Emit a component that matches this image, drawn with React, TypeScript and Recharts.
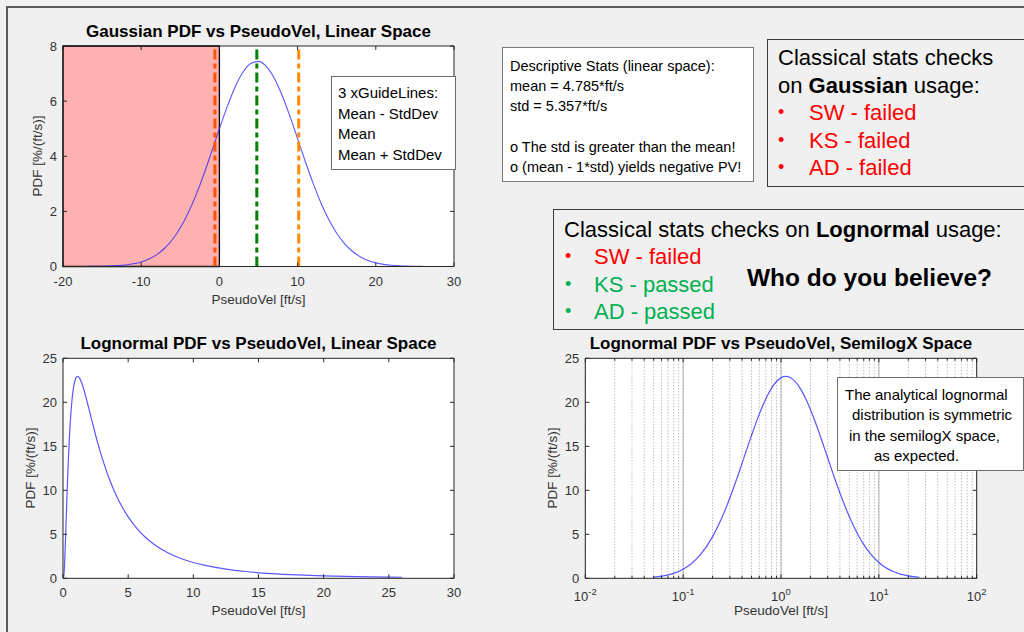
import React from 'react';
import {
  LineChart,
  Line,
  XAxis,
  YAxis,
  CartesianGrid,
  ReferenceArea,
  ReferenceLine
} from 'recharts';

// Gaussian fit, linear space
const gaussVel = [
  -17, -16, -15, -14, -13, -12, -11, -10, -9, -8, -7, -6, -5, -4, -3, -2, -1, 0, 1, 2, 3, 4,
  5, 6, 7, 8, 9, 10, 11, 12, 13, 14, 15, 16, 17, 18, 19, 20, 21, 22, 23, 24, 25, 26
];
const gaussPdf = [
  0.002, 0.004, 0.008, 0.016, 0.03, 0.055, 0.097, 0.165, 0.272, 0.432, 0.662, 0.981, 1.404,
  1.941, 2.59, 3.339, 4.157, 4.998, 5.802, 6.506, 7.045, 7.367, 7.441, 7.258, 6.837, 6.22,
  5.465, 4.637, 3.799, 3.006, 2.298, 1.696, 1.209, 0.832, 0.553, 0.355, 0.22, 0.132, 0.076,
  0.043, 0.023, 0.012, 0.006, 0.003
];
const gaussXTicks = [-20, -10, 0, 10, 20, 30];
const gaussYTicks = [0, 2, 4, 6, 8];
const negativeZone = [-20, 0];
// mean - std, mean, mean + std
const guideValues = [-0.572, 4.785, 10.142];

// Lognormal fit
const lognVel = [
  0.05, 0.06, 0.07, 0.08, 0.1, 0.12, 0.15, 0.2, 0.25, 0.3, 0.4, 0.5, 0.6, 0.7, 0.8, 0.9, 1.0,
  1.12, 1.25, 1.4, 1.6, 1.8, 2.0, 2.25, 2.5, 2.8, 3.2, 3.6, 4.0, 4.5, 5.0, 5.6, 6.3, 7.0, 8.0,
  9.0, 10, 11, 12.5, 14, 16, 18, 20, 22.5, 26
];
const lognPdf = [
  0.135, 0.242, 0.386, 0.567, 1.031, 1.618, 2.678, 4.74, 6.943, 9.122, 13.061, 16.238, 18.654,
  20.4, 21.603, 22.364, 22.786, 22.94, 22.794, 22.342, 21.441, 20.354, 19.187, 17.713, 16.285,
  14.684, 12.771, 11.117, 9.697, 8.207, 6.983, 5.791, 4.7, 3.851, 2.941, 2.283, 1.797, 1.432,
  1.041, 0.773, 0.535, 0.381, 0.277, 0.192, 0.12
];
const lognXTicks = [0, 5, 10, 15, 20, 25, 30];
const lognYTicks = [0, 5, 10, 15, 20, 25];
const logMajor = [0.01, 0.1, 1, 10, 100];
const logMinor = [
  0.02, 0.03, 0.04, 0.05, 0.06, 0.07, 0.08, 0.09,
  0.2, 0.3, 0.4, 0.5, 0.6, 0.7, 0.8, 0.9,
  2, 3, 4, 5, 6, 7, 8, 9,
  20, 30, 40, 50, 60, 70, 80, 90
];

const gaussData = gaussVel.map((v, i) => ({ v, pdf: gaussPdf[i] }));
const lognData = lognVel.map((v, i) => ({ v, pdf: lognPdf[i] }));
const logTicks = [...logMajor, ...logMinor].sort((a, b) => a - b);

const FONT = '"Liberation Sans", Arial, Helvetica, sans-serif';
const AX = '#262626';
const TICK = '#333333';
const CURVE = '#2020ff';
const GUIDE_COLORS = ['#ff5200', '#008000', '#ff8c00'];

type Box = { left: number; top: number; right: number; bottom: number };

const makeXTick = (box: Box, log = false) => (props: any) => {
  const { x, payload } = props;
  const v = payload.value;
  const major = !log || logMajor.includes(v);
  const len = major ? 4 : 2.5;
  let label: React.ReactNode = null;
  if (!log) {
    label = (
      <text x={x} y={box.bottom + 14.5} dy="0.35em" textAnchor="middle" fill={TICK} fontSize={13} fontFamily={FONT}>
        {v}
      </text>
    );
  } else if (major) {
    label = (
      <text x={x} y={box.bottom + 18.5} dy="0.35em" textAnchor="middle" fill={TICK} fontSize={13} fontFamily={FONT}>
        <tspan>10</tspan>
        <tspan dy={-6} fontSize={9.5}>{Math.round(Math.log10(v))}</tspan>
      </text>
    );
  }
  return (
    <g>
      <line x1={x} x2={x} y1={box.bottom} y2={box.bottom - len} stroke={AX} />
      <line x1={x} x2={x} y1={box.top} y2={box.top + len} stroke={AX} />
      {label}
    </g>
  );
};

const makeYTick = (box: Box) => (props: any) => {
  const { y, payload } = props;
  return (
    <g>
      <line x1={box.left} x2={box.left + 4} y1={y} y2={y} stroke={AX} />
      <line x1={box.right - 4} x2={box.right} y1={y} y2={y} stroke={AX} />
      <text x={box.left - 6} y={y} dy="0.35em" textAnchor="end" fill={TICK} fontSize={13} fontFamily={FONT}>
        {payload.value}
      </text>
    </g>
  );
};

interface PanelProps {
  left: number;
  top: number;
  width: number;
  height: number;
  box: Box;
  title: string;
  yLabelGap: number;
  children: React.ReactNode;
}

// one MATLAB-like axes: title, axis labels and the chart underneath
const Panel: React.FC<PanelProps> = ({ left, top, width, height, box, title, yLabelGap, children }) => {
  const cx = (box.left + box.right) / 2;
  const cy = (box.top + box.bottom) / 2;
  return (
    <div style={{ position: 'absolute', left, top, width, height }}>
      {children}
      <div style={{ position: 'absolute', left: cx - 200, width: 400, top: box.top - 24, textAlign: 'center', fontWeight: 'bold', fontSize: 17, lineHeight: '20px', color: '#000' }}>
        {title}
      </div>
      <div style={{ position: 'absolute', left: cx - 100, width: 200, top: box.bottom + 25, textAlign: 'center', fontSize: 13.5, lineHeight: '16px', color: TICK }}>
        PseudoVel [ft/s]
      </div>
      <div style={{ position: 'absolute', left: box.left - yLabelGap - 100, top: cy - 8, width: 200, textAlign: 'center', fontSize: 13.5, lineHeight: '16px', color: TICK, transform: 'rotate(-90deg)' }}>
        PDF [%/(ft/s)]
      </div>
    </div>
  );
};

// box lines on the top and right side of the axes
const frameAxes = (domainX: [number, number]) => [
  <XAxis key="tx" xAxisId="top" orientation="top" type="number" domain={domainX} height={1} tick={false} tickLine={false} axisLine={{ stroke: AX }} />,
  <YAxis key="ry" yAxisId="right" orientation="right" type="number" domain={[0, 1]} width={1} tick={false} tickLine={false} axisLine={{ stroke: AX }} />
];

const chartMargin = (box: Box, W: number, H: number) => ({
  top: box.top - 1,
  left: box.left - 1,
  right: W - box.right - 1,
  bottom: H - box.bottom - 1
});

const GaussianChart: React.FC = () => {
  const W = 480, H = 320;
  const box = { left: 63, top: 46, right: 454, bottom: 266.5 };
  return (
    <Panel left={0} top={0} width={W} height={H} box={box} yLabelGap={25} title="Gaussian PDF vs PseudoVel, Linear Space">
      <LineChart width={W} height={H} data={gaussData} margin={chartMargin(box, W, H)}>
        <CartesianGrid fill="#ffffff" horizontal={false} vertical={false} />
        <XAxis dataKey="v" type="number" domain={[-20, 30]} ticks={gaussXTicks} interval={0} height={1} tickSize={0} tickLine={false} axisLine={{ stroke: AX }} tick={makeXTick(box)} />
        <YAxis type="number" domain={[0, 8]} ticks={gaussYTicks} interval={0} width={1} tickSize={0} tickLine={false} axisLine={{ stroke: AX }} tick={makeYTick(box)} />
        {frameAxes([-20, 30])}
        <ReferenceArea x1={negativeZone[0]} x2={negativeZone[1]} y1={0} y2={8} fill="#ffb0b0" fillOpacity={1} stroke="#000" strokeWidth={1.3} />
        <Line dataKey="pdf" type="monotone" stroke={CURVE} strokeOpacity={0.75} strokeWidth={1.1} dot={false} isAnimationActive={false} />
        {guideValues.map((g, i) => (
          <ReferenceLine key={i} x={g} stroke={GUIDE_COLORS[i]} strokeWidth={3} strokeDasharray="10 4 5 4" />
        ))}
      </LineChart>
    </Panel>
  );
};

const LognormalLinearChart: React.FC = () => {
  const W = 480, H = 302;
  const box = { left: 63, top: 28.3, right: 454, bottom: 248.3 };
  return (
    <Panel left={0} top={330} width={W} height={H} box={box} yLabelGap={32} title="Lognormal PDF vs PseudoVel, Linear Space">
      <LineChart width={W} height={H} data={lognData} margin={chartMargin(box, W, H)}>
        <CartesianGrid fill="#ffffff" horizontal={false} vertical={false} />
        <XAxis dataKey="v" type="number" domain={[0, 30]} ticks={lognXTicks} interval={0} height={1} tickSize={0} tickLine={false} axisLine={{ stroke: AX }} tick={makeXTick(box)} />
        <YAxis type="number" domain={[0, 25]} ticks={lognYTicks} interval={0} width={1} tickSize={0} tickLine={false} axisLine={{ stroke: AX }} tick={makeYTick(box)} />
        {frameAxes([0, 30])}
        <Line dataKey="pdf" type="monotone" stroke={CURVE} strokeOpacity={0.75} strokeWidth={1.2} dot={false} isAnimationActive={false} />
      </LineChart>
    </Panel>
  );
};

const LognormalLogChart: React.FC = () => {
  const W = 484, H = 302;
  const box = { left: 45.3, top: 28.3, right: 436.7, bottom: 248.3 };
  return (
    <Panel left={540} top={330} width={W} height={H} box={box} yLabelGap={32} title="Lognormal PDF vs PseudoVel, SemilogX Space">
      <LineChart width={W} height={H} data={lognData} margin={chartMargin(box, W, H)}>
        <CartesianGrid fill="#ffffff" horizontal={false} vertical={true} stroke="#a0a0a0" strokeDasharray="1 2" />
        <XAxis dataKey="v" type="number" scale="log" domain={[0.01, 100]} ticks={logTicks} interval={0} height={1} tickSize={0} tickLine={false} axisLine={{ stroke: AX }} tick={makeXTick(box, true)} allowDataOverflow />
        <YAxis type="number" domain={[0, 25]} ticks={lognYTicks} interval={0} width={1} tickSize={0} tickLine={false} axisLine={{ stroke: AX }} tick={makeYTick(box)} />
        {frameAxes([0, 1])}
        {logMajor.slice(1, -1).map((m) => (
          <ReferenceLine key={m} x={m} stroke="#b4b4b4" strokeWidth={1} />
        ))}
        <Line dataKey="pdf" type="monotone" stroke={CURVE} strokeOpacity={0.75} strokeWidth={1.2} dot={false} isAnimationActive={false} />
      </LineChart>
    </Panel>
  );
};

const boxText: React.CSSProperties = {
  position: 'absolute',
  background: '#ffffff',
  color: '#000',
  boxSizing: 'border-box',
  whiteSpace: 'pre'
};

const App: React.FC = () => {
  return (
    <div style={{ position: 'absolute', left: 0, top: 0, width: 1024, height: 632, background: '#f0f0f0', overflow: 'hidden', fontFamily: FONT }}>
      <div style={{ position: 'absolute', left: 6, top: 6, width: 1030, height: 640, borderLeft: '2px solid #5a5a5a', borderTop: '2px solid #5a5a5a' }} />

      <GaussianChart />
      <LognormalLinearChart />
      <LognormalLogChart />

      {/* legend-like note inside the Gaussian axes */}
      <div style={{ ...boxText, left: 331, top: 76, width: 125, height: 94, border: '1px solid #6e6e6e', padding: '6px 0 0 6px', fontSize: 15, lineHeight: '20.5px' }}>
        {'3 xGuideLines:\nMean - StdDev\nMean\nMean + StdDev'}
      </div>

      <div style={{ ...boxText, left: 502, top: 47, width: 252, height: 135, border: '1px solid #7a7a7a', padding: '8px 0 0 7px', fontSize: 14.5, lineHeight: '20.2px' }}>
        {'Descriptive Stats (linear space):\nmean = 4.785*ft/s\nstd = 5.357*ft/s\n\no The std is greater than the mean!\no (mean - 1*std) yields negative PV!'}
      </div>

      <div style={{ ...boxText, background: 'transparent', left: 767, top: 39, width: 270, height: 148, border: '1.5px solid #3c3c3c', padding: '4px 0 0 10px', fontSize: 22, lineHeight: '27.5px' }}>
        <div>Classical stats checks</div>
        <div>on <b>Gaussian</b> usage:</div>
        {['SW - failed', 'KS - failed', 'AD - failed'].map((t) => (
          <div key={t} style={{ color: '#ff0000', position: 'relative' }}>
            <span style={{ position: 'absolute', left: 0, fontSize: 18 }}>•</span>
            <span style={{ marginLeft: 31 }}>{t}</span>
          </div>
        ))}
      </div>

      <div style={{ ...boxText, background: 'transparent', left: 553, top: 209, width: 480, height: 121, border: '1.5px solid #3c3c3c', padding: '6px 0 0 10px', fontSize: 22, lineHeight: '27.3px' }}>
        <div>Classical stats checks on <b>Lognormal</b> usage:</div>
        {[
          ['SW - failed', '#ff0000'],
          ['KS - passed', '#00b050'],
          ['AD - passed', '#00b050']
        ].map(([t, c]) => (
          <div key={t} style={{ color: c, position: 'relative' }}>
            <span style={{ position: 'absolute', left: 1, fontSize: 18 }}>•</span>
            <span style={{ marginLeft: 30 }}>{t}</span>
          </div>
        ))}
        <div style={{ position: 'absolute', left: 193, top: 54, fontSize: 24.5, fontWeight: 'bold', lineHeight: '28px' }}>
          Who do you believe?
        </div>
      </div>

      <div style={{ ...boxText, left: 837, top: 377, width: 187, height: 94, border: '1px solid #6e6e6e', padding: '7px 0 0 0', fontSize: 15, lineHeight: '20.3px' }}>
        <div style={{ marginLeft: 7 }}>The analytical lognormal</div>
        <div style={{ marginLeft: 14 }}>distribution is symmetric</div>
        <div style={{ marginLeft: 11 }}>in the semilogX space,</div>
        <div style={{ marginLeft: 36 }}>as expected.</div>
      </div>
    </div>
  );
};

export default App;
